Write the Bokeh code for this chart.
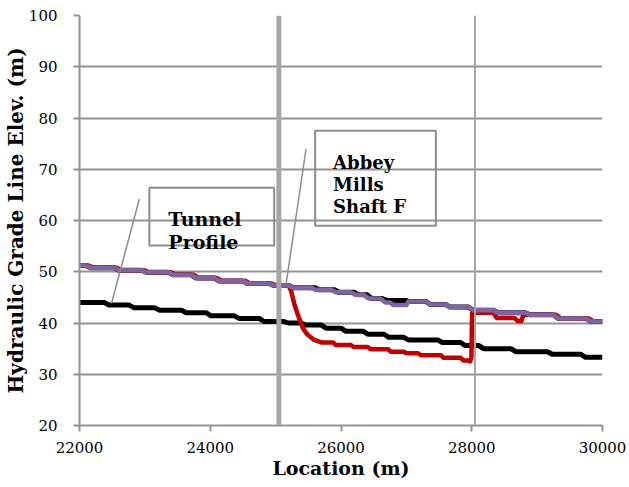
from bokeh.plotting import figure
from bokeh.models import Span, BoxAnnotation, Label, FixedTicker
from bokeh.embed import file_html
from bokeh.resources import INLINE

# ---- data ----
x_ticks = [22000, 24000, 26000, 28000, 30000]
y_ticks = [20, 30, 40, 50, 60, 70, 80, 90, 100]

loc_tunnel = [22000, 22380, 22450, 22760, 22830, 23150, 23220, 23560, 23630, 23940,
              24010, 24370, 24440, 24750, 24820, 25120, 25190, 25390, 25460, 25700,
              25770, 26000, 26070, 26340, 26410, 26660, 26730, 26960, 27030, 27480,
              27550, 27830, 27900, 28110, 28180, 28600, 28670, 29160, 29230, 29670,
              29740, 30000]
elev_tunnel = [44.0, 44.0, 43.5, 43.5, 43.0, 43.0, 42.5, 42.5, 42.0, 42.0,
               41.4, 41.4, 40.9, 40.9, 40.3, 40.3, 40.0, 40.0, 39.6, 39.6,
               39.0, 39.0, 38.4, 38.4, 37.8, 37.8, 37.2, 37.2, 36.7, 36.7,
               36.2, 36.2, 35.6, 35.6, 35.0, 35.0, 34.4, 34.4, 33.9, 33.9,
               33.3, 33.3]

loc_hgl_black = [22000, 22100, 22170, 22530, 22600, 22950, 23020, 23360, 23430, 23710,
                 23780, 24060, 24130, 24500, 24570, 24900, 24970, 25200, 25270, 25600,
                 25670, 25900, 25970, 26200, 26270, 26400, 26470, 26620, 26700, 27000,
                 27030, 27300, 27370, 27600, 27670, 27950, 28020, 28330, 28400, 28820,
                 28890, 29250, 29320, 29750, 29820, 30000]
hgl_black = [51.2, 51.2, 50.8, 50.8, 50.3, 50.3, 49.9, 49.9, 49.4, 49.4,
             48.8, 48.8, 48.2, 48.2, 47.7, 47.7, 47.3, 47.3, 46.9, 46.9,
             46.5, 46.5, 46.0, 46.0, 45.5, 45.5, 44.8, 44.8, 44.4, 44.4,
             44.2, 44.2, 43.6, 43.6, 43.1, 43.1, 42.5, 42.5, 42.0, 42.0,
             41.6, 41.6, 40.9, 40.9, 40.3, 40.3]

loc_hgl_red = [22000, 22140, 22210, 22570, 22640, 22990, 23060, 23400, 23470, 23750,
               23820, 24100, 24170, 24540, 24610, 24940, 25010, 25200, 25240, 25290,
               25340, 25420, 25490, 25590, 25700, 25880, 25920, 26150, 26190, 26410,
               26450, 26720, 26760, 26960, 27000, 27180, 27220, 27530, 27570, 27830,
               27870, 27940, 27975, 27995, 28005, 28330, 28380, 28650, 28700, 28760,
               28790, 29290, 29360, 29790, 29860, 30000]
hgl_red = [51.2, 51.2, 50.8, 50.8, 50.3, 50.3, 49.9, 49.9, 49.4, 49.4,
           48.8, 48.8, 48.2, 48.2, 47.7, 47.7, 47.3, 47.3, 46.1, 43.5,
           41.6, 38.9, 37.7, 36.7, 36.2, 36.2, 35.7, 35.7, 35.3, 35.3,
           34.9, 34.9, 34.4, 34.4, 34.1, 34.1, 33.7, 33.7, 33.2, 33.2,
           32.7, 32.7, 32.5, 33.3, 42.0, 42.0, 41.0, 41.0, 40.4, 40.4,
           41.6, 41.6, 40.9, 40.9, 40.3, 40.3]

loc_hgl_purple = [22000, 22100, 22170, 22530, 22600, 22950, 23020, 23360, 23430, 23710,
                  23780, 24060, 24130, 24500, 24570, 24900, 24970, 25200, 25270, 25540,
                  25610, 25850, 25920, 26150, 26220, 26350, 26420, 26600, 26680, 26750,
                  26800, 27000, 27030, 27300, 27370, 27600, 27670, 27950, 28020, 28330,
                  28400, 28820, 28890, 29250, 29320, 29750, 29820, 30000]
hgl_purple = [51.2, 51.2, 50.8, 50.8, 50.3, 50.3, 49.9, 49.9, 49.4, 49.4,
              48.8, 48.8, 48.2, 48.2, 47.7, 47.7, 47.3, 47.3, 46.9, 46.9,
              46.5, 46.5, 46.0, 46.0, 45.5, 45.5, 44.8, 44.8, 44.0, 44.0,
              43.5, 43.5, 44.2, 44.2, 43.6, 43.6, 43.1, 43.1, 42.5, 42.5,
              42.0, 42.0, 41.6, 41.6, 40.9, 40.9, 40.3, 40.3]

shaft_main = 25050
shaft_next = 28050

SERIF = "DejaVu Serif"
GRID = "#939393"

p = figure(width=629, height=487, x_range=(22000, 30000), y_range=(20, 100),
           output_backend="svg", toolbar_location=None,
           min_border_left=78, min_border_right=27, min_border_top=15, min_border_bottom=62)
p.outline_line_color = None
p.background_fill_color = "white"
p.border_fill_color = "white"
p.xgrid.visible = False
p.ygrid.grid_line_color = GRID
p.ygrid.grid_line_width = 2
p.ygrid.ticker = FixedTicker(ticks=y_ticks)

p.xaxis.ticker = FixedTicker(ticks=x_ticks)
p.yaxis.ticker = FixedTicker(ticks=y_ticks)
for ax in (p.xaxis[0], p.yaxis[0]):
    ax.axis_line_color = GRID
    ax.axis_line_width = 2
    ax.major_tick_line_color = GRID
    ax.major_tick_line_width = 2
    ax.major_tick_out = 6
    ax.major_tick_in = 0
    ax.minor_tick_line_color = None
    ax.major_label_text_font = SERIF
    ax.major_label_text_font_size = "15px"
    ax.major_label_text_color = "black"
    ax.axis_label_text_font = SERIF
    ax.axis_label_text_font_style = "bold"
    ax.axis_label_text_color = "black"

p.xaxis.axis_label = "Location (m)"
p.xaxis.axis_label_text_font_size = "19px"
p.xaxis.major_label_standoff = 10
p.xaxis.axis_label_standoff = 1
p.yaxis.axis_label = "Hydraulic Grade Line Elev. (m)"
p.yaxis.axis_label_text_font_size = "20px"
p.yaxis.major_label_standoff = 16
p.yaxis.axis_label_standoff = -2

# vertical reference lines
p.add_layout(Span(location=shaft_main, dimension="height", line_color="#a6a6a6", line_width=5))
p.add_layout(Span(location=shaft_next, dimension="height", line_color="#a6a6a6", line_width=2))

# series
p.line(loc_tunnel, elev_tunnel, line_color="black", line_width=5, line_join="round")
p.line(loc_hgl_black, hgl_black, line_color="black", line_width=5, line_join="round")
p.line(loc_hgl_red, hgl_red, line_color="#c00000", line_width=4.5, line_join="round")
p.line(loc_hgl_purple, hgl_purple, line_color="#8064a2", line_width=4.5, line_join="round")

# callouts
p.segment(x0=[22916, 25466], y0=[64.2, 74.0], x1=[22489, 25161], y1=[43.8, 47.7],
          line_color="#8c8c8c", line_width=1.5)
p.add_layout(BoxAnnotation(left=23069, right=24978, bottom=55.1, top=66.4,
                           fill_alpha=0, line_color="#8c8c8c", line_alpha=1, line_width=2))
p.add_layout(BoxAnnotation(left=25604, right=27451, bottom=59.0, top=77.5,
                           fill_alpha=0, line_color="#8c8c8c", line_alpha=1, line_width=2))

for txt, xx, yy, fs in [("Tunnel", 23359, 60.3, "19px"), ("Profile", 23359, 55.8, "19px"),
                        ("Abbey", 25879, 71.4, "18px"), ("Mills", 25879, 67.0, "18px"),
                        ("Shaft F", 25879, 62.7, "18px")]:
    p.add_layout(Label(x=xx, y=yy, text=txt, text_font=SERIF, text_font_style="bold",
                       text_font_size=fs, text_color="black", text_baseline="alphabetic"))

open("out.html", "w").write(file_html(p, INLINE))
